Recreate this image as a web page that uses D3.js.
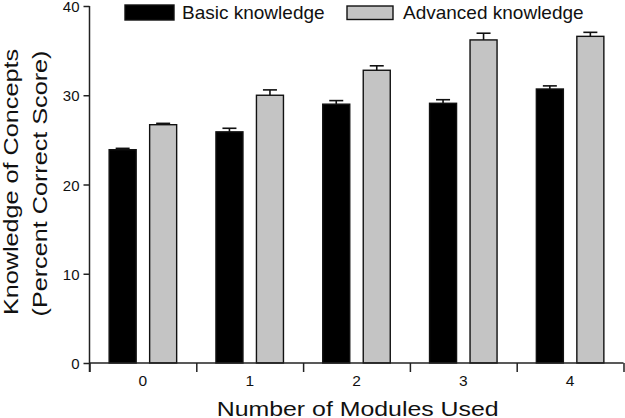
<!DOCTYPE html>
<html>
<head>
<meta charset="utf-8">
<script src="https://cdn.jsdelivr.net/npm/d3@7"></script>
<style>
  html, body { margin: 0; padding: 0; background: #fff; }
  svg { display: block; }
  text { font-family: "Liberation Sans", Arial, Helvetica, sans-serif; fill: #111; }
</style>
</head>
<body>
<svg id="chart" width="625" height="418"></svg>
<script>
const categories = ["0", "1", "2", "3", "4"];
const seriesNames = ["Basic knowledge", "Advanced knowledge"];
const basicValues = [23.9, 25.9, 29.0, 29.1, 30.7];
const advancedValues = [26.7, 30.0, 32.8, 36.2, 36.6];
const basicErrors = [0.15, 0.4, 0.4, 0.4, 0.35];
const advancedErrors = [0.15, 0.6, 0.5, 0.75, 0.45];
const yTickValues = [0, 10, 20, 30, 40];
const xTitle = "Number of Modules Used";
const yTitleLines = ["Knowledge of Concepts", "(Percent Correct Score)"];

(function () {
const svg = d3.select("#chart");
const plotLeft = 89.5, plotRight = 623.5, plotTop = 6, plotBottom = 363;
const fills = ["#000000", "#c4c4c4"];
const FONT = '"Liberation Sans", Arial, Helvetica, sans-serif';

const y = d3.scaleLinear().domain([0, 40]).range([plotBottom, plotTop]);
const x0 = d3.scaleBand().domain(categories).range([plotLeft, plotRight]).padding(0);
const x1 = d3.scaleBand().domain(seriesNames).range([0, x0.bandwidth()])
  .paddingInner(0.333).paddingOuter(0.485);
const xEdge = d3.scaleLinear().domain([0, categories.length]).range([plotLeft, plotRight]);

const rows = categories.map((c, i) => ({
  cat: c,
  vals: [
    { s: seriesNames[0], v: basicValues[i], e: basicErrors[i] },
    { s: seriesNames[1], v: advancedValues[i], e: advancedErrors[i] }
  ]
}));

const g = svg.append("g");
const groups = g.selectAll("g.grp").data(rows).join("g").attr("class", "grp")
  .attr("transform", d => `translate(${x0(d.cat)},0)`);

groups.selectAll("g.err").data(d => d.vals).join("g").attr("class", "err").each(function (d) {
  const cx = x1(d.s) + x1.bandwidth() / 2;
  const sel = d3.select(this);
  sel.append("line").attr("x1", cx).attr("x2", cx)
    .attr("y1", y(d.v)).attr("y2", y(d.v + d.e))
    .attr("stroke", "#111").attr("stroke-width", 1.6);
  sel.append("line").attr("x1", cx - 7).attr("x2", cx + 7)
    .attr("y1", y(d.v + d.e)).attr("y2", y(d.v + d.e))
    .attr("stroke", "#111").attr("stroke-width", 1.6);
});

groups.selectAll("rect").data(d => d.vals).join("rect")
  .attr("x", d => x1(d.s))
  .attr("width", x1.bandwidth())
  .attr("y", d => y(d.v))
  .attr("height", d => y(0) - y(d.v))
  .attr("fill", (d, i) => fills[i])
  .attr("stroke", "#111")
  .attr("stroke-width", 1.4);

const yAxis = svg.append("g").attr("transform", `translate(${plotLeft},0)`)
  .call(d3.axisLeft(y).tickValues(yTickValues).tickSize(6).tickPadding(4));
yAxis.attr("font-size", null).attr("font-family", null);
yAxis.select(".domain").attr("d", `M0,${plotTop}V${plotBottom + 9}`);
yAxis.selectAll("path, line").attr("stroke", "#222").attr("stroke-width", 1.5);
yAxis.selectAll("text").attr("dy", "0.38em")
  .style("font-size", "15px").style("font-family", FONT).style("fill", "#111");

const xAxis = svg.append("g").attr("transform", `translate(0,${plotBottom})`)
  .call(d3.axisBottom(xEdge).tickValues(d3.range(categories.length + 1)).tickSize(9).tickFormat(""));
xAxis.select(".domain").attr("d", `M${plotLeft},0H${plotRight}`);
xAxis.selectAll("path, line").attr("stroke", "#222").attr("stroke-width", 1.5);

const xLab = svg.append("g").attr("transform", `translate(0,${plotBottom})`)
  .call(d3.axisBottom(x0).tickSize(0).tickPadding(12));
xLab.attr("font-size", null).attr("font-family", null);
xLab.select(".domain").remove();
xLab.selectAll("text")
  .style("font-size", "15.5px").style("font-family", FONT).style("fill", "#111");

svg.append("text")
  .attr("x", 216.7).attr("y", 415.5)
  .style("font-size", "21px")
  .attr("textLength", 282).attr("lengthAdjust", "spacingAndGlyphs")
  .text(xTitle);

const yt = [{ x: 17.5, y: 315 }, { x: 46.5, y: 316.5 }];
yTitleLines.forEach((t, i) => {
  svg.append("text")
    .attr("transform", `translate(${yt[i].x},${yt[i].y}) rotate(-90)`)
    .style("font-size", "20.5px")
    .attr("textLength", 266).attr("lengthAdjust", "spacingAndGlyphs")
    .text(t);
});

const legendItems = [
  { name: seriesNames[0], rx: 125, ry: 5, rw: 49, rh: 15, tx: 182 },
  { name: seriesNames[1], rx: 347, ry: 6, rw: 46, rh: 13.5, tx: 403 }
];
legendItems.forEach((d, i) => {
  svg.append("rect").attr("x", d.rx).attr("y", d.ry).attr("width", d.rw).attr("height", d.rh)
    .attr("fill", fills[i]).attr("stroke", "#111").attr("stroke-width", 1.4);
  svg.append("text").attr("x", d.tx).attr("y", 19).style("font-size", "19px").text(d.name);
});
})();
</script>
</body>
</html>
